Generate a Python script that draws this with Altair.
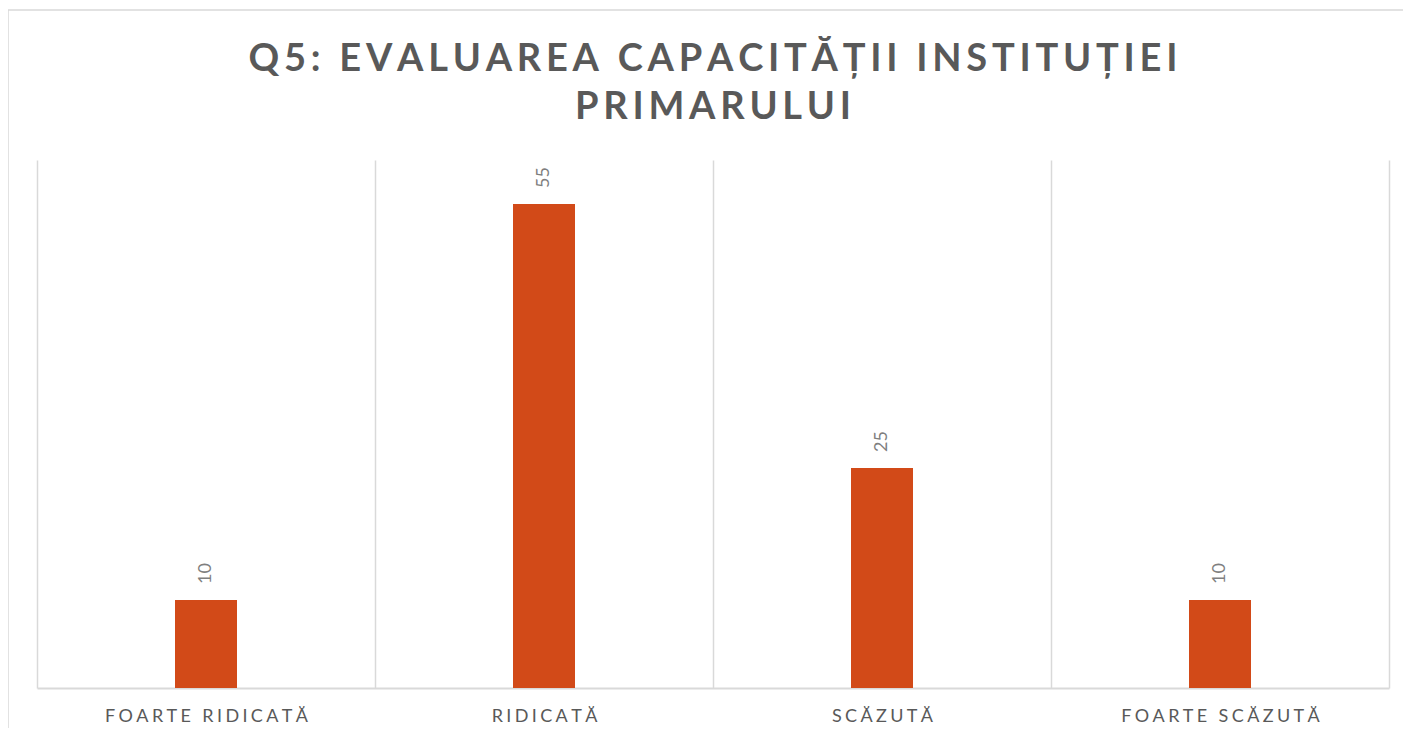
import altair as alt
import pandas as pd

categories = ["FOARTE RIDICATĂ", "RIDICATĂ", "SCĂZUTĂ", "FOARTE SCĂZUTĂ"]
values = [10, 55, 25, 10]
title_lines = ["Q5: EVALUAREA CAPACITĂȚII INSTITUȚIEI", "PRIMARULUI"]

HS = "\u200a"


def spaced(s, n=2):
    return (HS * n).join(s)


df = pd.DataFrame({"cat": categories, "val": values})

W, H = 1352, 528
FONT = "Lato"

x_enc = alt.X(
    "cat:N",
    sort=categories,
    title=None,
    scale=alt.Scale(paddingInner=0, paddingOuter=0),
    axis=alt.Axis(
        labelExpr="join(split(datum.label, ''), '" + HS * 3 + "')",
        labelAngle=0,
        labelFont=FONT,
        labelFontSize=18,
        labelColor="#595959",
        labelPadding=19,
        labelLimit=0,
        ticks=False,
        tickBand="extent",
        grid=True,
        gridColor="#d9d9d9",
        gridWidth=1.5,
        domainColor="#d9d9d9",
        domainWidth=2,
    ),
)
y_enc = alt.Y("val:Q", scale=alt.Scale(domain=[0, 58]), axis=None)

bars = alt.Chart(df).mark_bar(color="#D24A18", size=62).encode(x=x_enc, y=y_enc)

labels = alt.Chart(df).mark_text(
    angle=270, align="left", baseline="middle", dx=16,
    fontSize=18, font=FONT, color="#7f7f7f"
).encode(x=alt.X("cat:N", sort=categories), y="val:Q", text="val:Q")

frame = alt.Chart(pd.DataFrame({"k": [0]})).mark_rect(
    fillOpacity=0, stroke="#d9d9d9", strokeWidth=1.5
).encode(
    x=alt.value(-29), x2=alt.value(1420), y=alt.value(-150), y2=alt.value(620)
)

title_df = pd.DataFrame({"t": [[spaced(t) for t in title_lines]]})
title = alt.Chart(title_df).mark_text(
    font=FONT, fontSize=38, fontWeight="bold", color="#595959",
    align="center", baseline="top", lineHeight=48,
).encode(x=alt.value(W / 2), y=alt.value(-119), text="t")

chart = alt.layer(frame, bars, labels, title).properties(
    width=W,
    height=H,
    padding={"left": 29, "top": 152, "right": 14, "bottom": 40},
    autosize=alt.AutoSizeParams(type="none"),
).configure(background="white").configure_view(stroke=None)

chart.save("out.html", embed_options={"renderer": "svg", "actions": False})
